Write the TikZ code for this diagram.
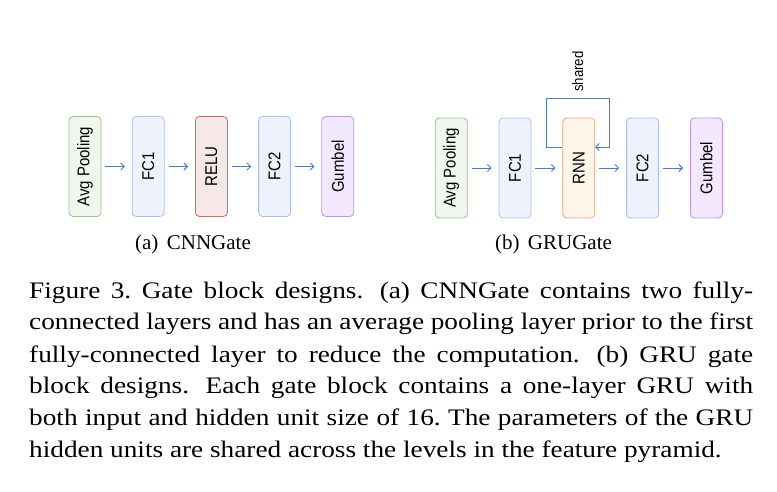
\documentclass[tikz,border=0pt]{standalone}
\usepackage{fontspec}
\setmainfont{Liberation Serif}
\newfontfamily\boxfont[FakeStretch=0.88]{Liberation Sans}
\newfontfamily\capfont[FakeStretch=1.15]{Liberation Serif}
\usepackage{graphicx}
\usetikzlibrary{positioning, arrows.meta}

\definecolor{arrowblue}{HTML}{4878D0}
\definecolor{avgfill}{HTML}{F0F7EC}
\definecolor{avgline}{HTML}{97C28B}
\definecolor{fcfill}{HTML}{EEF2FD}
\definecolor{fcline}{HTML}{A9BEF0}
\definecolor{relufill}{HTML}{F6E8E6}
\definecolor{reluline}{HTML}{E0685A}
\definecolor{rnnfill}{HTML}{FDF5E8}
\definecolor{rnnline}{HTML}{E8A584}
\definecolor{gumfill}{HTML}{F3E8FD}
\definecolor{gumline}{HTML}{C592F2}

\tikzset{
  gatebox/.style={rounded corners=4pt, line width=0.8pt, minimum width=32pt,
    minimum height=100pt, inner sep=0pt, font=\boxfont\fontsize{17}{17}\selectfont},
  flow/.style={draw=arrowblue, line width=0.9pt, shorten <=4pt, shorten >=7pt,
    -{Straight Barb[length=3.5pt,width=7pt]}},
}

\begin{document}
\begin{tikzpicture}[x=1pt, y=-1pt]
\useasboundingbox (0,0) rectangle (777,492);

% (a) CNNGate
\node[gatebox, draw=avgline, fill=avgfill] (cAvg) at (85,166.5) {\rotatebox{90}{Avg Pooling}};
\node[gatebox, draw=fcline, fill=fcfill, right=30.4pt of cAvg] (cFC1) {\rotatebox{90}{FC1}};
\node[gatebox, draw=reluline, fill=relufill, right=30.4pt of cFC1] (cRelu) {\rotatebox{90}{RELU}};
\node[gatebox, draw=fcline, fill=fcfill, right=30.4pt of cRelu] (cFC2) {\rotatebox{90}{FC2}};
\node[gatebox, draw=gumline, fill=gumfill, right=30.4pt of cFC2] (cGumbel) {\rotatebox{90}{Gumbel}};

\foreach \a/\b in {cAvg/cFC1, cFC1/cRelu, cRelu/cFC2, cFC2/cGumbel}
{
    \draw[flow] (\a) -- (\b);
}

% (b) GRUGate
\node[gatebox, draw=avgline, fill=avgfill] (gAvg) at (451.2,168) {\rotatebox{90}{Avg Pooling}};
\node[gatebox, draw=fcline, fill=fcfill, right=31pt of gAvg] (gFC1) {\rotatebox{90}{FC1}};
\node[gatebox, draw=rnnline, fill=rnnfill, right=31pt of gFC1] (gRnn) {\rotatebox{90}{RNN}};
\node[gatebox, draw=fcline, fill=fcfill, right=31pt of gRnn] (gFC2) {\rotatebox{90}{FC2}};
\node[gatebox, draw=gumline, fill=gumfill, right=31pt of gFC2] (gGumbel) {\rotatebox{90}{Gumbel}};

\foreach \a/\b in {gAvg/gFC1, gFC1/gRnn, gRnn/gFC2, gFC2/gGumbel}
{
    \draw[flow] (\a) -- (\b);
}

% shared loop over the RNN
\coordinate (loopTop) at ([xshift=-1pt, yshift=18.7pt]gRnn.north);
\draw[flow, shorten <=0pt, shorten >=0pt] ([yshift=21pt]gRnn.west) -- ++(-16pt,0) |- (loopTop)
    -| ([xshift=14pt, yshift=21pt]gRnn.east) -- ([yshift=21pt]gRnn.east);
\node[rotate=90, anchor=west, inner sep=0pt, font=\boxfont\fontsize{15}{15}\selectfont]
    (shared) at ([yshift=7pt]loopTop) {shared};

% Sub-captions
\node[anchor=base, inner sep=0pt, font=\fontsize{21}{21}\selectfont] (subA) at (193,249) {(a)\hspace{0.4em}CNNGate};
\node[anchor=base, inner sep=0pt, font=\fontsize{21}{21}\selectfont] (subB) at (553.5,249) {(b)\hspace{0.4em}GRUGate};

% Figure caption
\node[anchor=base west, inner sep=0pt, text width=724pt, align=justify,
    font=\capfont\fontsize{23.7}{32}\selectfont\frenchspacing] (caption) at (29,298)
{Figure 3. Gate block designs.\hspace{0.25em} (a) CNNGate contains two fully-\linebreak
connected layers and has an average pooling layer prior to the first\linebreak
fully-connected layer to reduce the computation.\hspace{0.25em} (b) GRU gate\linebreak
block designs.\hspace{0.25em} Each gate block contains a one-layer GRU with\linebreak
both input and hidden unit size of 16. The parameters of the GRU\linebreak
hidden units are shared across the levels in the feature pyramid.};

\end{tikzpicture}
\end{document}
